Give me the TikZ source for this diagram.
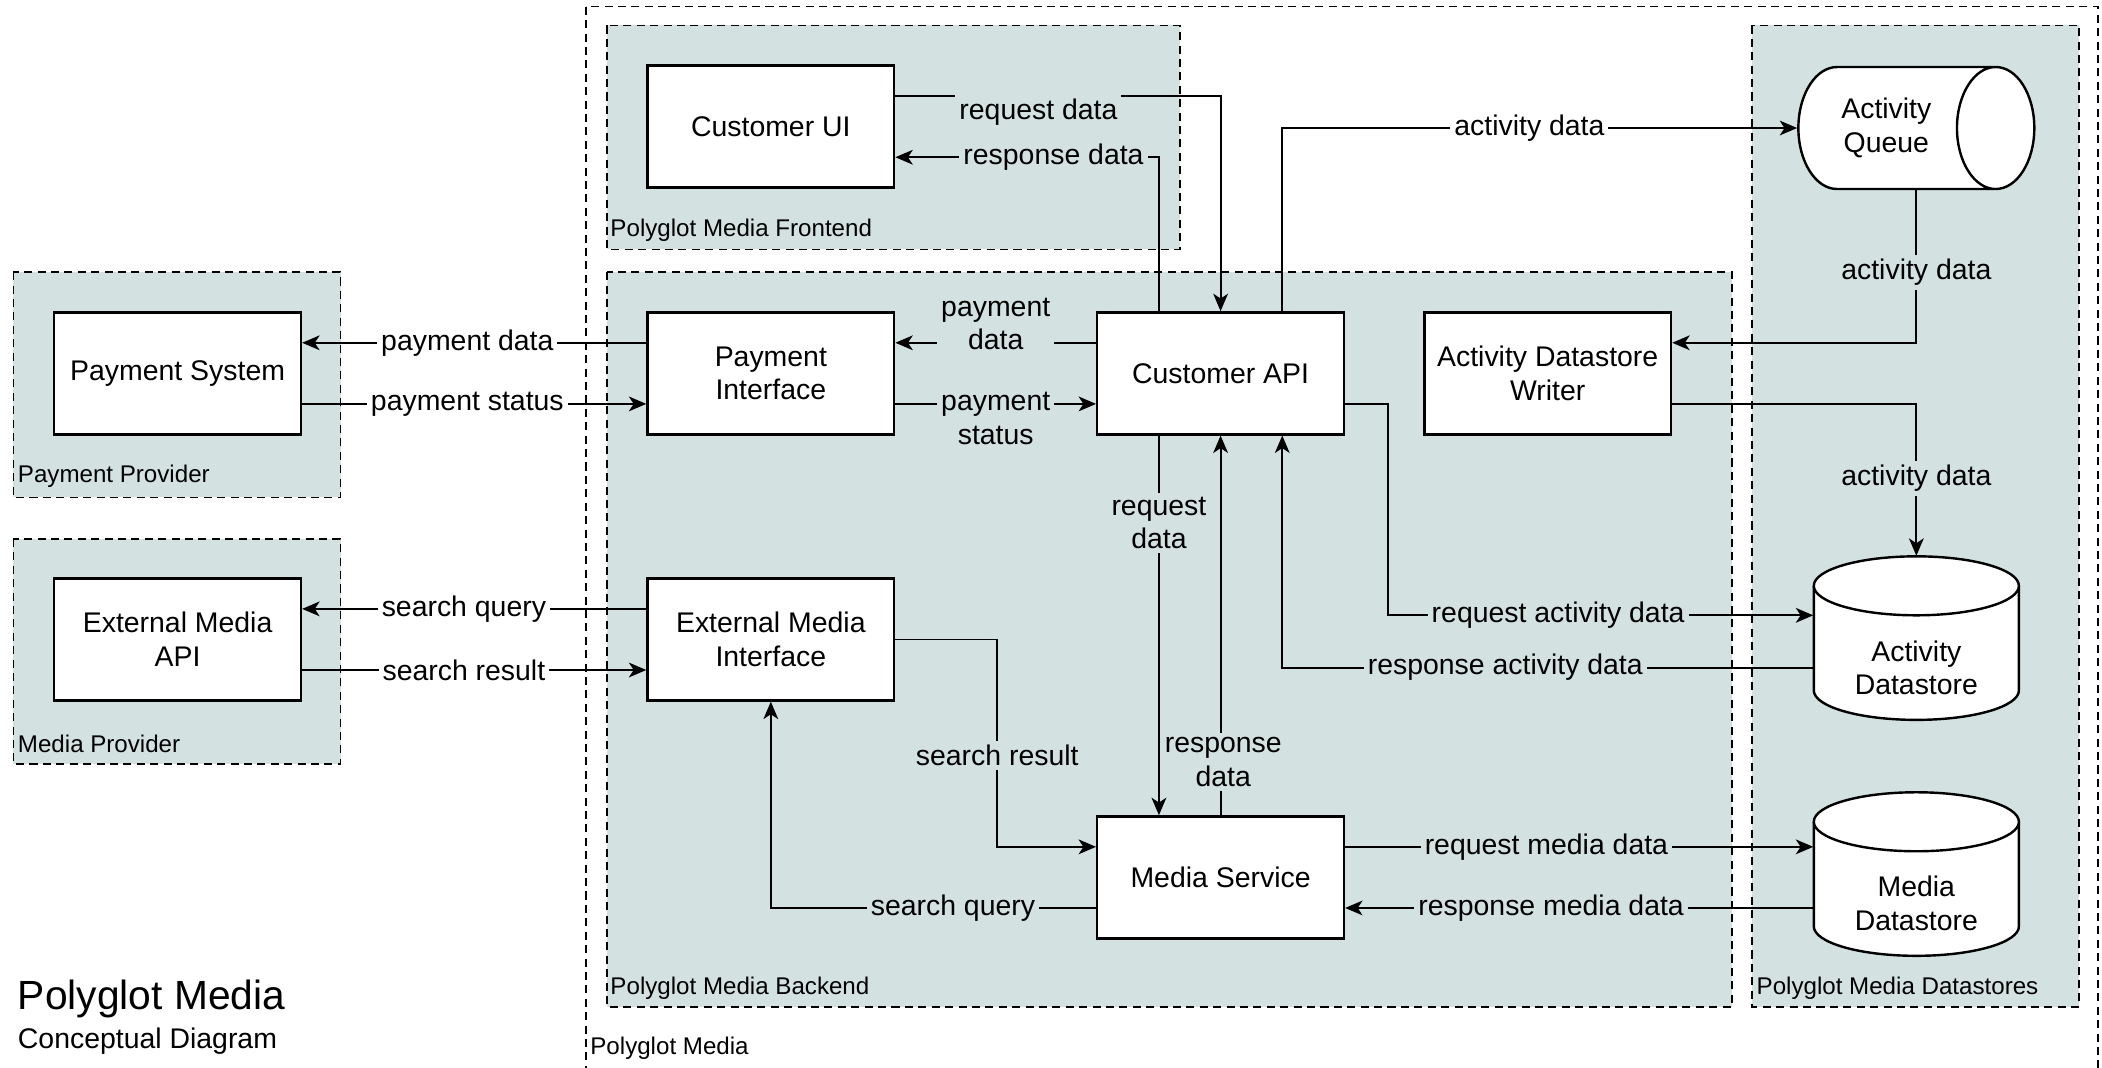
\documentclass[tikz,border=0pt]{standalone}
\usepackage{fontspec}
\setmainfont{Liberation Sans}
\usetikzlibrary{positioning,calc,shapes.geometric,arrows.meta}

\definecolor{zonefill}{HTML}{D3E2E1}

\tikzset{
    zone/.style={draw, fill=zonefill, line width=0.6pt, dash pattern=on 3pt off 2pt},
    zonename/.style={anchor=west, inner sep=0pt, font=\fontsize{9}{11}\selectfont},
    box/.style={draw, fill=white, line width=0.9pt, minimum width=92pt, minimum height=45.5pt,
                align=center, font=\fontsize{10.6}{12.5}\selectfont},
    store/.style={cylinder, draw, fill=white, line width=0.9pt, align=center,
                  anchor=shape center, font=\fontsize{10.6}{12.5}\selectfont},
    drum/.style={draw, fill=white, line width=0.9pt},
    drumbody/.style={minimum width=76.5pt, minimum height=39pt, inner sep=0pt,
                     align=center, font=\fontsize{10.6}{12.5}\selectfont},
    flow/.style={line width=0.7pt, -{Stealth[length=6.5pt, width=5.5pt, inset=1.8pt]}},
    lbl/.style={fill=zonefill, inner sep=1.5pt, align=center, font=\fontsize{10.6}{12.5}\selectfont},
    wlbl/.style={lbl, fill=white}
}

\begin{document}
\begin{tikzpicture}[x=0.5pt, y=-0.5pt]
    \useasboundingbox (0,0) rectangle (1568,796);
    % containers
    \draw[line width=0.6pt, dash pattern=on 3pt off 2pt] (437,5) rectangle (1565,812);
    \draw[zone] (453,19) rectangle (880,186);
    \draw[zone] (453,203) rectangle (1292,751);
    \draw[zone] (1307,19) rectangle (1551,751);
    \draw[zone] (10,203) rectangle (254,371);
    \draw[zone] (10,402) rectangle (254,570);
    \node[zonename] (nmedia) at (440,782) {Polyglot Media};
    \node[zonename] (nfront) at (455,172) {Polyglot Media Frontend};
    \node[zonename] (nback) at (455,737) {Polyglot Media Backend};
    \node[zonename] (nstores) at (1310,737) {Polyglot Media Datastores};
    \node[zonename] (npay) at (13,355) {Payment Provider};
    \node[zonename] (nmprov) at (13,555) {Media Provider};

    \node[anchor=west, inner sep=0pt, font=\fontsize{15.2}{18}\selectfont] (title) at (13,745) {Polyglot Media};
    \node[anchor=west, inner sep=0pt, font=\fontsize{10.6}{13}\selectfont] (subtitle) at (13,777) {Conceptual Diagram};

    % components
    \node[box] (cui) at (575,94.5) {Customer UI};
    \node[box] (pint) at (575,278.5) {Payment\\Interface};
    \node[box] (emint) at (575,477) {External Media\\Interface};
    \node[box] (capi) at (910.5,278.5) {Customer API};
    \node[box] (adw) at (1154.5,278.5) {Activity Datastore\\Writer};
    \node[box] (msvc) at (910.5,654.5) {Media Service};
    \node[box] (psys) at (132.5,278.5) {Payment System};
    \node[box] (emapi) at (132.5,477) {External Media\\API};
    \node[store, minimum width=45.5pt, minimum height=88pt, aspect=1] (aq) at (1429.5,95.5) {Activity\\Queue};

    % datastores
    \draw[drum] (1353,437) -- (1353,515) arc[start angle=180, end angle=360, x radius=38.25pt, y radius=11pt]
                -- (1506,437) arc[start angle=0, end angle=180, x radius=38.25pt, y radius=11pt] -- cycle;
    \draw[drum] (1353,437) arc[start angle=180, end angle=360, x radius=38.25pt, y radius=11pt];
    \node[drumbody] (ads) at (1429.5,498) {Activity\\Datastore};
    \draw[drum] (1353,613) -- (1353,691) arc[start angle=180, end angle=360, x radius=38.25pt, y radius=11pt]
                -- (1506,613) arc[start angle=0, end angle=180, x radius=38.25pt, y radius=11pt] -- cycle;
    \draw[drum] (1353,613) arc[start angle=180, end angle=360, x radius=38.25pt, y radius=11pt];
    \node[drumbody] (mds) at (1429.5,674) {Media\\Datastore};

    \coordinate (adsreq) at ($(ads.center)+(0,-39)$);
    \coordinate (ms1) at ([yshift=11.4pt]msvc.east);
    \coordinate (ms3) at ([yshift=-11.4pt]msvc.east);

    % flows
    \draw[flow] ([yshift=11.4pt]cui.east) -| node[lbl, pos=.22, yshift=-6pt] {request data} (capi.north);
    \draw[flow] ([xshift=-23pt]capi.north) |- node[lbl, pos=.7] {response data} ([yshift=-11.4pt]cui.east);
    \draw[flow] ([xshift=23pt]capi.north) |- node[wlbl, pos=.74] {activity data} (aq.west);
    \draw[flow] (aq.shape center |- aq.south) |- node[lbl, pos=.27] {activity data} ([yshift=11.4pt]adw.east);
    \draw[flow] ([yshift=-11.4pt]adw.east) -| node[lbl, pos=.745] {activity data} ([yshift=22pt]ads.north);
    \draw[flow] ([yshift=11.4pt]capi.west) -- node[lbl, yshift=7pt] {payment\\data} ([yshift=11.4pt]pint.east);
    \draw[flow] ([yshift=-11.4pt]pint.east) -- node[lbl, yshift=-5.5pt] {payment\\status} ([yshift=-11.4pt]capi.west);
    \draw[flow] ([yshift=11.4pt]pint.west) -- node[wlbl, pos=.52] {payment data} ([yshift=11.4pt]psys.east);
    \draw[flow] ([yshift=-11.4pt]psys.east) -- node[wlbl, pos=.48] {payment status} ([yshift=-11.4pt]pint.west);
    \draw[flow] ([yshift=11.4pt]emint.west) -- node[wlbl, pos=.53] {search query} ([yshift=11.4pt]emapi.east);
    \draw[flow] ([yshift=-11.4pt]emapi.east) -- node[wlbl, pos=.47] {search result} ([yshift=-11.4pt]emint.west);
    \draw[flow] ([xshift=-23pt]capi.south) -- node[lbl, pos=.23] {request\\data} ([xshift=-23pt]msvc.north);
    \draw[flow] (msvc.north) -- node[lbl, pos=.14, inner xsep=0pt, xshift=1pt] {response\\data} (capi.south);
    \draw[flow] ([yshift=-11.4pt]capi.east) -- ++(32,0) |- node[lbl, pos=.7] {request activity data} (adsreq -| ads.west);
    \draw[flow] (ads.west) -| node[lbl, pos=.29] {response activity data} ([xshift=23pt]capi.south);
    \draw[flow] (emint.east) -- ++(76,0) |- node[lbl, pos=.28] {search result} ([yshift=11.4pt]msvc.west);
    \draw[flow] ([yshift=-11.4pt]msvc.west) -| node[lbl, pos=.22] {search query} (emint.south);
    \draw[flow] (ms1) -- node[lbl, pos=.43] {request media data} (ms1 -| mds.west);
    \draw[flow] (ms3 -| mds.west) -- node[lbl, pos=.56] {response media data} (ms3);
\end{tikzpicture}
\end{document}
